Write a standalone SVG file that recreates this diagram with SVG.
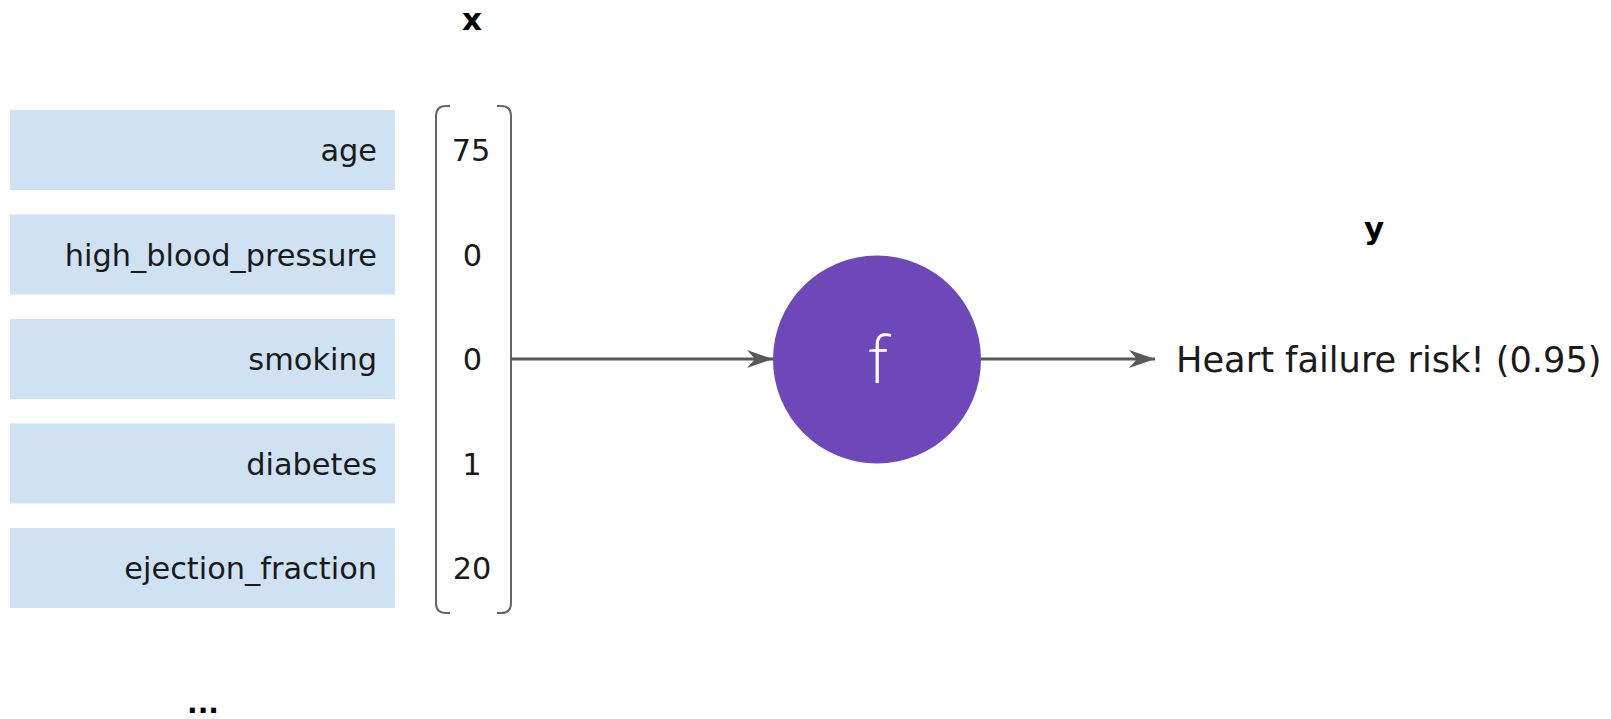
<svg xmlns="http://www.w3.org/2000/svg" width="1611" height="719" viewBox="0 0 1611 719">
  <style>
    .feat { fill: #cfe2f3; }
    .lbl { font-family: "DejaVu Sans", "Liberation Sans", sans-serif; font-size: 30.4px; fill: #1a1a1a; }
    .val { font-family: "DejaVu Sans", "Liberation Sans", sans-serif; font-size: 30.4px; fill: #1a1a1a; text-anchor: middle; }
    .title { font-family: "DejaVu Sans", "Liberation Sans", sans-serif; font-size: 31px; font-weight: bold; fill: #000; text-anchor: middle; }
    .bracket { fill: none; stroke: #666666; stroke-width: 2; }
    .edge { fill: none; stroke: #595959; stroke-width: 3; }
  </style>
  <defs>
    <marker id="arrow" markerUnits="userSpaceOnUse" markerWidth="28" markerHeight="20" refX="26" refY="10" orient="auto">
      <path d="M0,1 L26,10 L0,19 L8,10 Z" fill="#595959"/>
    </marker>
  </defs>

  <rect width="1611" height="719" fill="#ffffff"/>

  <text class="title" x="472" y="30">x</text>
  <text class="title" x="1374" y="239">y</text>

  <!-- feature name boxes -->
  <g id="feature-age">
    <rect class="feat" x="10" y="110" width="385" height="80"/>
    <text class="lbl" x="377" y="161" text-anchor="end">age</text>
  </g>
  <g id="feature-high-blood-pressure">
    <rect class="feat" x="10" y="214.5" width="385" height="80"/>
    <text class="lbl" x="377" y="265.5" text-anchor="end">high_blood_pressure</text>
  </g>
  <g id="feature-smoking">
    <rect class="feat" x="10" y="319" width="385" height="80"/>
    <text class="lbl" x="377" y="370" text-anchor="end">smoking</text>
  </g>
  <g id="feature-diabetes">
    <rect class="feat" x="10" y="423.5" width="385" height="80"/>
    <text class="lbl" x="377" y="474.5" text-anchor="end">diabetes</text>
  </g>
  <g id="feature-ejection-fraction">
    <rect class="feat" x="10" y="528" width="385" height="80"/>
    <text class="lbl" x="377" y="579" text-anchor="end">ejection_fraction</text>
  </g>
  <text class="title" x="203" y="713" style="font-size:28px">...</text>

  <!-- input vector x -->
  <g id="vector-x">
    <path class="bracket" d="M450,106 L446,106 Q436,106 436,116 L436,603 Q436,613 446,613 L450,613"/>
    <path class="bracket" d="M497,106 L501,106 Q511,106 511,116 L511,603 Q511,613 501,613 L497,613"/>
    <text class="val" x="471" y="161">75</text>
    <text class="val" x="472.5" y="265.5">0</text>
    <text class="val" x="472.5" y="370">0</text>
    <text class="val" x="472" y="474.5">1</text>
    <text class="val" x="472" y="579">20</text>
  </g>

  <!-- model f -->
  <g id="model-f">
    <circle cx="877" cy="359.5" r="104" fill="#6e48b8"/>
    <text x="878" y="383" text-anchor="middle" fill="#ffffff" style="font-family:'Open Sans','DejaVu Sans',sans-serif;font-size:64px;font-weight:300">f</text>
  </g>

  <!-- output y -->
  <g id="output-y">
    <text x="1176" y="372" style="font-family:'DejaVu Sans','Liberation Sans',sans-serif;font-size:35.2px;fill:#1a1a1a">Heart failure risk! (0.95)</text>
  </g>

  <g id="connectors">
    <line class="edge" x1="511" y1="359" x2="773" y2="359" marker-end="url(#arrow)"/>
    <line class="edge" x1="981" y1="359" x2="1155" y2="359" marker-end="url(#arrow)"/>
  </g>
</svg>
